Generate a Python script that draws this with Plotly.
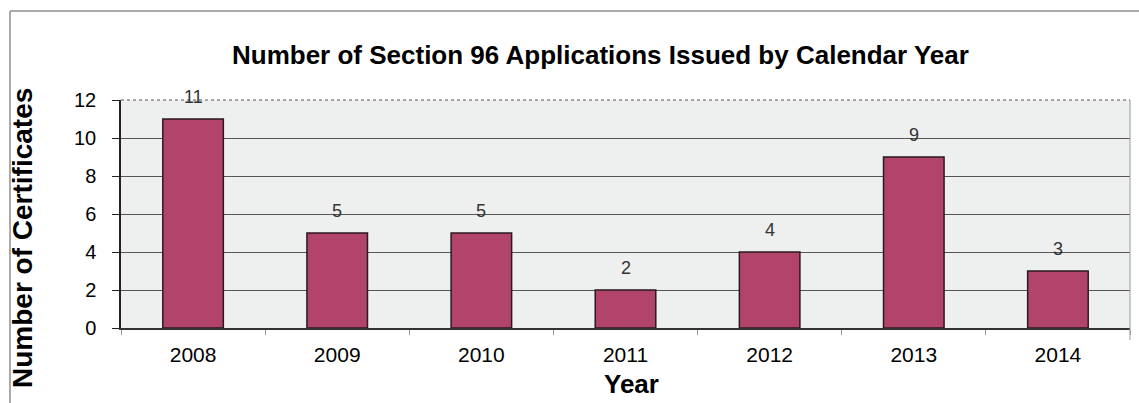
import plotly.graph_objects as go

years = ["2008", "2009", "2010", "2011", "2012", "2013", "2014"]
certificates = [11, 5, 5, 2, 4, 9, 3]
y_ticks = [0, 2, 4, 6, 8, 10, 12]

L, R, T, B = 121, 9, 100, 75
W, H = 1139, 403
pw = W - L - R
ph = H - T - B
FONT = "Arial, Liberation Sans, sans-serif"

def px_x(p):
    return (p - L) / pw

def px_y(p):
    return (H - B - p) / ph

fig = go.Figure()
fig.add_trace(go.Bar(
    x=years, y=certificates,
    marker=dict(color="#B2436A", line=dict(color="#2a1a1f", width=1.5)),
    width=0.42,
    hoverinfo="x+y",
))

# value labels placed via the category axis (index position) and value on y axis
value_labels = [
    dict(text=str(v), x=i, y=v, xref="x", yref="y",
         xanchor="center", yanchor="middle", yshift=22, showarrow=False,
         font=dict(family=FONT, size=18, color="#333333"))
    for i, v in enumerate(certificates)
]

fig.update_layout(
    width=W, height=H,
    margin=dict(l=L, r=R, t=T, b=B),
    paper_bgcolor="white",
    plot_bgcolor="#EEEFEF",
    showlegend=False,
    xaxis=dict(
        type="category",
        categoryorder="array", categoryarray=years,
        range=[-0.5, len(years) - 0.5],
        tickfont=dict(family=FONT, size=21, color="black"),
        showline=True, linecolor="#333333", linewidth=1.5,
        ticks="outside", ticklen=5, tickson="boundaries", tickcolor="#999999",
        ticklabelstandoff=7,
        showgrid=False,
    ),
    yaxis=dict(
        range=[0, 12], tickvals=y_ticks,
        tickfont=dict(family=FONT, size=20, color="black"),
        showline=True, linecolor="#222222", linewidth=1.5,
        ticks="outside", ticklen=7, tickcolor="#222222",
        ticklabelstandoff=12,
        showgrid=True, gridcolor="#555555", gridwidth=1,
        zeroline=False,
    ),
    annotations=value_labels + [
        dict(text="<b>Number of Section 96 Applications Issued by Calendar Year</b>",
             xref="paper", yref="paper", x=px_x(600), y=px_y(55),
             xanchor="center", yanchor="middle", showarrow=False,
             font=dict(family=FONT, size=26, color="black")),
        dict(text="<b>Number of Certificates</b>",
             xref="paper", yref="paper", x=px_x(22), y=px_y(238),
             xanchor="center", yanchor="middle", showarrow=False, textangle=-90,
             font=dict(family=FONT, size=28, color="black")),
        dict(text="<b>Year</b>",
             xref="paper", yref="paper", x=px_x(631), y=px_y(384),
             xanchor="center", yanchor="middle", showarrow=False,
             font=dict(family=FONT, size=26, color="black")),
    ],
    shapes=[
        dict(type="line", xref="paper", yref="paper", x0=px_x(10), x1=px_x(1139), y0=px_y(11), y1=px_y(11),
             line=dict(color="#AAAAAA", width=2)),
        dict(type="line", xref="paper", yref="paper", x0=px_x(10), x1=px_x(10), y0=px_y(11), y1=px_y(403),
             line=dict(color="#AAAAAA", width=2)),
        dict(type="line", xref="paper", yref="paper", x0=1, x1=1, y0=px_y(340), y1=1,
             line=dict(color="#999999", width=1)),
        dict(type="line", xref="paper", yref="paper", x0=0, x1=1, y0=1, y1=1,
             line=dict(color="#555555", width=1, dash="dot")),
    ],
)

fig.write_html("out.html")
